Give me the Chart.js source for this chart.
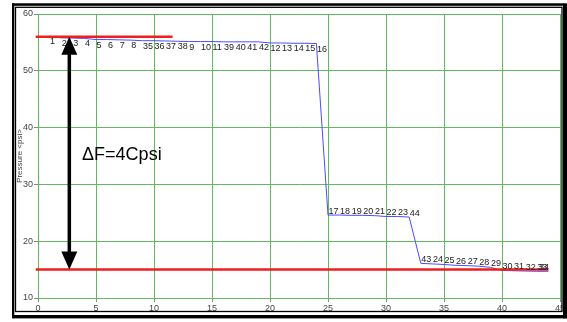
<!DOCTYPE html>
<html>
<head>
<meta charset="utf-8">
<script src="https://cdn.jsdelivr.net/npm/chart.js@4.4.1/dist/chart.umd.min.js"></script>
<style>
  html, body { margin: 0; padding: 0; background: #fff; }
  #c { display: block; }
</style>
</head>
<body>
<canvas id="c" width="567" height="322" style="width:567px;height:322px"></canvas>
<script>
// ---- data ----
const xValues = [1,2,3,4,5,6,7,8,9,10,11,12,13,14,15,16,17,18,19,20,21,22,23,24,25,26,27,28,29,30,31,32,33,34,35,36,37,38,39,40,41,42,43,44];
const pointLabels = [1,2,3,4,5,6,7,8,35,36,37,38,9,10,11,39,40,41,42,12,13,14,15,16,17,18,19,20,21,22,23,44,43,24,25,26,27,28,29,30,31,32,33,34];
const pressure = [56.1,55.8,55.75,55.7,55.5,55.5,55.45,55.4,55.3,55.3,55.25,55.2,55.15,55.15,55.15,55.1,55.1,55.1,55.1,54.9,54.9,54.85,54.85,54.8,
                  24.6,24.6,24.55,24.55,24.5,24.35,24.35,24.25,
                  16.1,16.0,15.9,15.75,15.7,15.6,15.4,14.85,14.8,14.75,14.7,14.7];
const refLevels = [56, 15];
const refStart = [-0.2, -0.2];
const refEnd = [11.6, 44];
const xTicks = [0,5,10,15,20,25,30,35,40,45];
const yTicks = [10,20,30,40,50,60];
const arrowX = 2.7;
const arrowFrom = 56;
const arrowTo = 15;
const noteText = "ΔF=4Cpsi";
const noteX = 3.8;
const noteY = 34.3;
const yTitle = "Pressure <psi>";

const FONT = "'Liberation Sans', Arial, sans-serif";

const bluePts = xValues.map((x, i) => ({x: x, y: pressure[i]}));
const redSets = refLevels.map((lv, i) => ({
  data: [{x: refStart[i], y: lv}, {x: refEnd[i], y: lv}],
  showLine: true, borderColor: 'rgb(240,30,30)', borderWidth: 2.5,
  pointRadius: 0, clip: false, order: 0
}));

const bgPlugin = {
  id: 'bg',
  beforeDraw(chart) {
    const ctx = chart.ctx;
    ctx.save(); ctx.fillStyle = '#fff'; ctx.fillRect(0, 0, chart.width, chart.height); ctx.restore();
  }
};

const labelPlugin = {
  id: 'labels',
  afterDatasetsDraw(chart) {
    const ctx = chart.ctx;
    const xs = chart.scales.x, ys = chart.scales.y;
    ctx.save();
    ctx.font = '9px ' + FONT;
    ctx.fillStyle = '#222';
    ctx.textBaseline = 'alphabetic';
    const n = xValues.length;
    for (let i = 0; i < n; i++) {
      const px = xs.getPixelForValue(xValues[i]);
      const py = ys.getPixelForValue(pressure[i]);
      const below = pressure[i] > 40;
      ctx.textAlign = (i === n - 1) ? 'right' : 'left';
      ctx.fillText(String(pointLabels[i]), px + 0.5, below ? py + 8 : py - 1.5);
    }
    // double arrow
    const ax = xs.getPixelForValue(arrowX);
    const ay1 = ys.getPixelForValue(arrowFrom);
    const ay2 = ys.getPixelForValue(arrowTo);
    const hl = 18, hw = 8;
    ctx.strokeStyle = '#000'; ctx.fillStyle = '#000'; ctx.lineWidth = 3.5;
    ctx.beginPath(); ctx.moveTo(ax, ay1 + hl - 1); ctx.lineTo(ax, ay2 - hl + 1); ctx.stroke();
    ctx.beginPath(); ctx.moveTo(ax, ay1); ctx.lineTo(ax - hw, ay1 + hl); ctx.lineTo(ax + hw, ay1 + hl); ctx.closePath(); ctx.fill();
    ctx.beginPath(); ctx.moveTo(ax, ay2); ctx.lineTo(ax - hw, ay2 - hl); ctx.lineTo(ax + hw, ay2 - hl); ctx.closePath(); ctx.fill();
    // note
    ctx.font = '18px ' + FONT;
    ctx.textAlign = 'left';
    ctx.fillStyle = '#000';
    ctx.fillText(noteText, xs.getPixelForValue(noteX), ys.getPixelForValue(noteY));
    ctx.restore();
  }
};

const framePlugin = {
  id: 'frame',
  afterDraw(chart) {
    const ctx = chart.ctx;
    ctx.save();
    ctx.fillStyle = '#fff';
    ctx.fillRect(562, 0, 5, 322);
    ctx.fillStyle = '#000';
    ctx.fillRect(12, 3.3, 552, 2.5);     // top thick
    ctx.fillRect(12, 3.3, 2.3, 315);     // left thick
    ctx.fillRect(563, 3.3, 4, 315);      // right thick
    ctx.fillRect(13, 315, 554, 3.4);     // bottom thick
    ctx.strokeStyle = '#000'; ctx.lineWidth = 1.3;
    ctx.strokeRect(15.5, 7.3, 546.5, 304.2);
    ctx.restore();
  }
};

new Chart(document.getElementById('c'), {
  type: 'scatter',
  data: {
    datasets: [
      ...redSets,
      { data: bluePts, showLine: true, borderColor: 'rgb(75,75,255)', borderWidth: 1,
        pointRadius: 0, tension: 0, order: 1 }
    ]
  },
  options: {
    responsive: false,
    animation: false,
    devicePixelRatio: 1,
    layout: { padding: { left: 0, top: 14, right: 7, bottom: 0 } },
    plugins: { legend: { display: false }, tooltip: { enabled: false } },
    scales: {
      x: {
        type: 'linear', min: 0, max: 45,
        afterBuildTicks: s => { s.ticks = xTicks.map(v => ({value: v})); },
        afterFit: s => { s.height = 24; },
        grid: { color: 'rgb(95,185,95)', lineWidth: 1, drawTicks: true, tickLength: 4, tickColor: '#888' },
        border: { color: 'rgb(95,185,95)' },
        ticks: { color: '#444', font: { size: 9, family: FONT }, padding: 1, maxRotation: 0, autoSkip: false }
      },
      y: {
        type: 'linear', min: 10, max: 60,
        afterBuildTicks: s => { s.ticks = yTicks.map(v => ({value: v})); },
        afterFit: s => { s.width = 38; },
        grid: { color: 'rgb(95,185,95)', lineWidth: 1, drawTicks: true, tickLength: 4, tickColor: '#888' },
        border: { color: 'rgb(95,185,95)' },
        ticks: { color: '#444', font: { size: 9, family: FONT }, padding: 1 },
        title: { display: true, text: yTitle, color: '#444', font: { size: 8, family: FONT }, padding: { top: 15, bottom: 0 } }
      }
    }
  },
  plugins: [bgPlugin, labelPlugin, framePlugin]
});
</script>
</body>
</html>
